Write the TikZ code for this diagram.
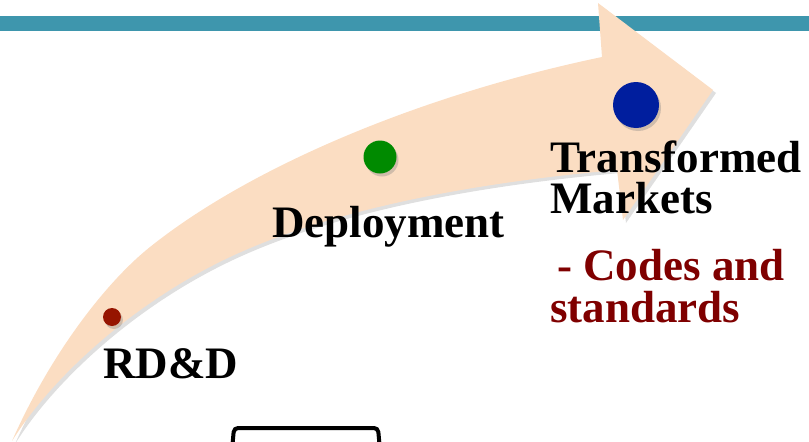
\documentclass[tikz,border=0pt]{standalone}
\usepackage{fontspec}
\setmainfont{Liberation Serif}
\usetikzlibrary{shadows}
\definecolor{barteal}{HTML}{3E96AD}
\definecolor{arrowpeach}{HTML}{FBDDC2}
\definecolor{rddred}{HTML}{961400}
\definecolor{deploygreen}{HTML}{008A00}
\definecolor{marketblue}{HTML}{001E9E}
\definecolor{codered}{HTML}{7F0000}
\tikzset{
  stagetext/.style={font=\fontsize{45}{41}\selectfont\bfseries, inner sep=0pt,
    anchor=base west, align=left},
  redtext/.style={stagetext, text=codered},
  stagedot/.style={circle, inner sep=0pt,
    drop shadow={opacity=0.35, shadow xshift=2pt, shadow yshift=-3pt}},
  softshadow/.style={drop shadow={opacity=0.25, shadow xshift=3pt, shadow yshift=-3pt}}
}

\begin{document}
\begin{tikzpicture}[x=1pt, y=-1pt]
    \useasboundingbox (0,0) rectangle (809,442);
    % band across the top
    \fill[barteal] (0,16) rectangle (809,31);
    % curved arrow
    \fill[arrowpeach, softshadow]
      (12,441) .. controls (50,355) and (105,283) .. (150,247)
      .. controls (250,167) and (420,95) .. (602,57)
      -- (598,3) -- (713,90) -- (623,220) -- (617,170)
      .. controls (470,183) and (330,210) .. (230,257)
      .. controls (130,304) and (50,380) .. (12,441) -- cycle;
    % stages
    \node[stagedot, fill=rddred, minimum size=18pt] (rdddot) at (112,317) {};
    \node[stagedot, fill=deploygreen, minimum size=33pt] (deploydot) at (380,157) {};
    \node[stagedot, fill=marketblue, minimum size=46pt] (marketdot) at (636,105) {};
    \node[stagetext] (rdd) at (103,378) {RD\&D};
    \node[stagetext] (deploy) at (272,237) {Deployment};
    \node[stagetext] (transformed) at (550,172) {Transformed};
    \node[stagetext] (markets) at (550,213) {Markets};
    \node[redtext] (codes) at (557,280) {- Codes and};
    \node[redtext] (standards) at (550,322) {standards};
    % box cut by the lower edge
    \draw[line width=4pt, rounded corners=4pt] (232,450) -- (234,428) -- (378,428) -- (380,450);
  \end{tikzpicture}
\end{document}
